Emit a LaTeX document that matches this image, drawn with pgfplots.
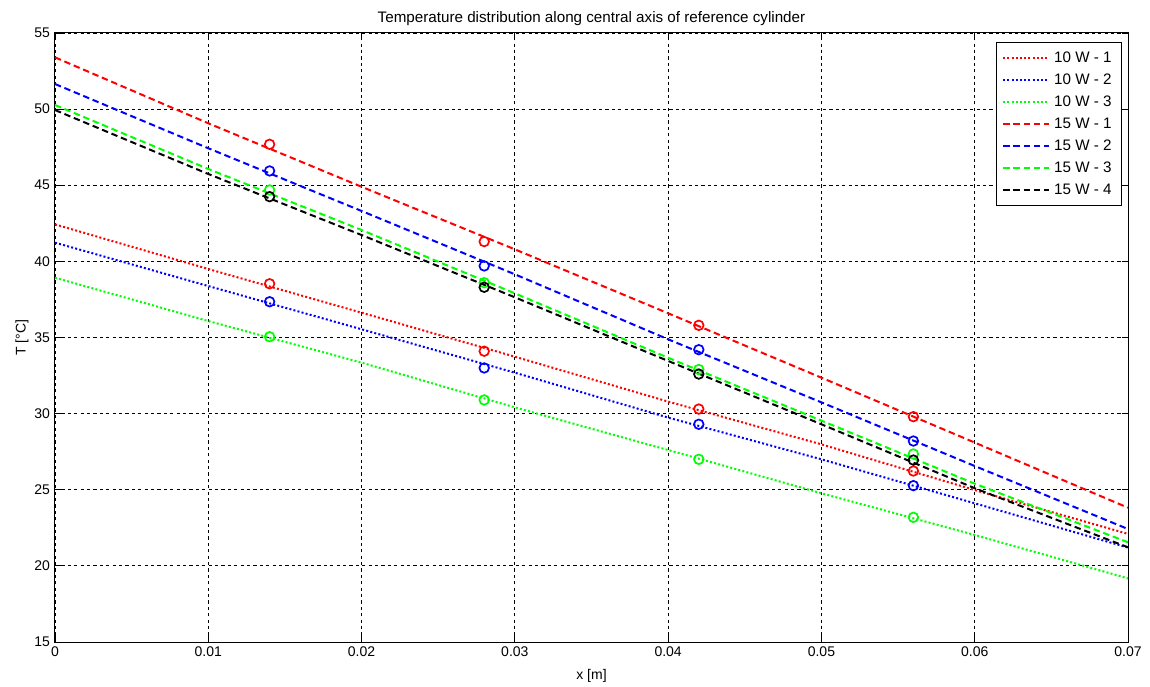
\documentclass[border=0pt]{standalone}
\usepackage{fontspec}
\setmainfont{Liberation Sans}
\usepackage{pgfplots}
\pgfplotsset{compat=1.18}

\definecolor{mred}{rgb}{1,0,0}
\definecolor{mblue}{rgb}{0,0,1}
\definecolor{mgreen}{rgb}{0,1,0}

\begin{document}
\fontsize{7}{8.4}\selectfont
\begin{tikzpicture}
\begin{axis}[
  at={(0,0)}, anchor=south west,
  scale only axis,
  width=536.5pt, height=304.5pt,
  xmin=0, xmax=0.07, ymin=15, ymax=55,
  xtick={0,0.01,0.02,0.03,0.04,0.05,0.06,0.07},
  ytick={15,20,25,30,35,40,45,50,55},
  scaled x ticks=false,
  /pgf/number format/assume math mode=true,
  xticklabel style={/pgf/number format/fixed, /pgf/number format/precision=2, font=\fontsize{7}{8.4}\selectfont},
  yticklabel style={font=\fontsize{7}{8.4}\selectfont},
  tick align=inside,
  major tick length=3pt,
  tick style={black, line width=0.4pt},
  axis line style={black, line width=0.5pt},
  grid=major,
  major grid style={black, line width=0.4pt, dash pattern=on 1.6pt off 1.6pt},
  xlabel={x [m]},
  ylabel={T [°C]},
  xlabel style={font=\fontsize{7}{8.4}\selectfont, yshift=-1.5pt},
  ylabel style={font=\fontsize{7}{8.4}\selectfont, yshift=-2pt},
  title={Temperature distribution along central axis of reference cylinder},
  title style={font=\fontsize{7.6}{9}\selectfont, yshift=-5pt},
  legend cell align=left,
  legend style={font=\fontsize{7.6}{9}\selectfont, draw=black, line width=0.5pt, fill=white,
    at={(0.9945,0.985)}, anchor=north east, inner xsep=3pt, inner ysep=2.5pt,
    row sep=0.7pt},
  legend image code/.code={%
    \draw[#1] plot coordinates {(0pt,0pt) (23pt,0pt)};},
  dotline/.style={line width=1.0pt, dash pattern=on 1pt off 1.1pt},
  dashline/.style={line width=1.0pt, dash pattern=on 3.2pt off 1.9pt},
  meas/.style={only marks, mark=o, mark size=2.4pt, mark options={solid, line width=0.85pt}},
]
% simulated temperature profiles
\addplot[color=mred, dotline] coordinates {
  (0,42.43) (0.01,39.50) (0.02,36.63) (0.03,33.74) (0.04,30.79) (0.05,27.98) (0.06,24.98) (0.07,22.10)};
\addlegendentry{10 W - 1}
\addplot[color=mblue, dotline] coordinates {
  (0,41.23) (0.01,38.38) (0.02,35.54) (0.03,32.69) (0.04,29.74) (0.05,27.00) (0.06,24.11) (0.07,21.20)};
\addlegendentry{10 W - 2}
\addplot[color=mgreen, dotline] coordinates {
  (0,38.93) (0.01,36.08) (0.02,33.35) (0.03,30.41) (0.04,27.61) (0.05,24.77) (0.06,22.03) (0.07,19.18)};
\addlegendentry{10 W - 3}
\addplot[color=mred, dashline] coordinates {
  (0,53.40) (0.01,49.07) (0.02,44.90) (0.03,40.79) (0.04,36.59) (0.05,32.36) (0.06,28.10) (0.07,23.82)};
\addlegendentry{15 W - 1}
\addplot[color=mblue, dashline] coordinates {
  (0,51.65) (0.01,47.43) (0.02,43.31) (0.03,39.15) (0.04,34.88) (0.05,30.74) (0.06,26.56) (0.07,22.42)};
\addlegendentry{15 W - 2}
\addplot[color=mgreen, dashline] coordinates {
  (0,50.27) (0.01,46.07) (0.02,42.06) (0.03,37.90) (0.04,33.67) (0.05,29.54) (0.06,25.40) (0.07,21.55)};
\addlegendentry{15 W - 3}
\addplot[color=black, dashline] coordinates {
  (0,49.94) (0.01,45.74) (0.02,41.73) (0.03,37.64) (0.04,33.46) (0.05,29.30) (0.06,25.10) (0.07,21.22)};
\addlegendentry{15 W - 4}

% measured values
\addplot[color=mred, meas, forget plot] coordinates {(0.014,38.53) (0.028,34.10) (0.042,30.30) (0.056,26.23)};
\addplot[color=mblue, meas, forget plot] coordinates {(0.014,37.35) (0.028,33.00) (0.042,29.30) (0.056,25.27)};
\addplot[color=mgreen, meas, forget plot] coordinates {(0.014,35.05) (0.028,30.90) (0.042,27.00) (0.056,23.19)};
\addplot[color=mred, meas, forget plot] coordinates {(0.014,47.69) (0.028,41.30) (0.042,35.80) (0.056,29.80)};
\addplot[color=mblue, meas, forget plot] coordinates {(0.014,45.94) (0.028,39.70) (0.042,34.20) (0.056,28.20)};
\addplot[color=mgreen, meas, forget plot] coordinates {(0.014,44.69) (0.028,38.60) (0.042,32.90) (0.056,27.35)};
\addplot[color=black, meas, forget plot] coordinates {(0.014,44.25) (0.028,38.30) (0.042,32.60) (0.056,26.95)};
\end{axis}
\pgfresetboundingbox
\path (-27.5pt,-22pt) rectangle (547.5pt,321pt);
\end{tikzpicture}
\end{document}
